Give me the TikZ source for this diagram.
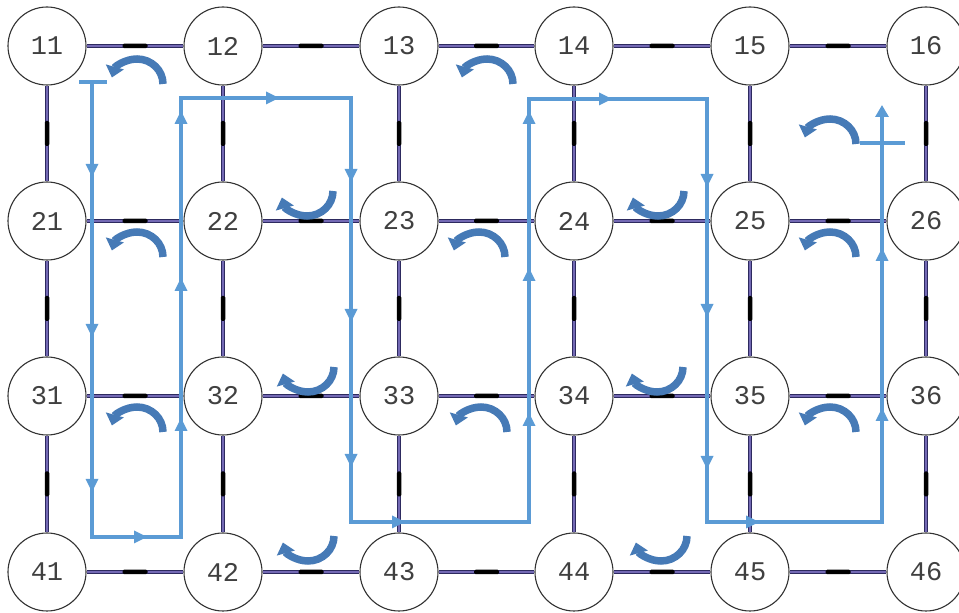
\documentclass[tikz,border=0pt]{standalone}
\usepackage{fontspec}
\setmonofont{Liberation Mono}
\usetikzlibrary{arrows.meta,backgrounds}
\definecolor{edgeout}{RGB}{45,42,95}
\definecolor{edgein}{RGB}{115,105,180}
\definecolor{pathc}{RGB}{91,155,213}
\definecolor{curvc}{RGB}{70,122,182}
\definecolor{txt}{RGB}{64,64,64}
\begin{document}
\begin{tikzpicture}[x=1pt,y=1pt,
  vert/.style={circle,draw=black!80,line width=1.1pt,fill=white,minimum size=78pt,inner sep=0pt,
    font=\ttfamily\fontsize{27}{29}\selectfont,text=txt},
  edgebase/.style={draw=edgeout,line width=4.2pt},
  edgeinner/.style={draw=edgein,line width=1.4pt},
  markbar/.style={fill=black,minimum width=25pt,minimum height=4.5pt,inner sep=0pt,rounded corners=1.5pt},
  loop/.style={draw=pathc,line width=3.8pt},
  ptip/.pic={\fill[pathc] (7,0) -- (-6,6.5) -- (-6,-6.5) -- cycle;},
  capc/.pic={\draw[curvc,line width=7.5pt,-{Triangle[width=18pt,length=11pt]}] (26,0) arc[start angle=0,end angle=165,x radius=26,y radius=25];},
  cupc/.pic={\draw[curvc,line width=7.5pt,-{Triangle[width=18pt,length=11pt]}] (26,0) arc[start angle=0,end angle=-165,x radius=26,y radius=25];}
]
\useasboundingbox (0,0) rectangle (959,613);
% nodes
\foreach \r/\y in {1/567,2/392,3/217,4/41}
  \foreach \c/\x in {1/47,2/223,3/399,4/574,5/750,6/926}
    \node[vert] (n\r\c) at (\x,\y) {\r\c};
% edges
\begin{scope}[on background layer]
\foreach \r in {1,2,3,4}
  \foreach \c/\d in {1/2,2/3,3/4,4/5,5/6} {
    \draw[edgebase] (n\r\c) -- (n\r\d);
    \draw[edgeinner] (n\r\c) -- (n\r\d);
    \path (n\r\c) -- (n\r\d) node[midway,sloped,markbar] {};
  }
\foreach \c in {1,2,3,4,5,6}
  \foreach \r/\s in {1/2,2/3,3/4} {
    \draw[edgebase] (n\r\c) -- (n\s\c);
    \draw[edgeinner] (n\r\c) -- (n\s\c);
    \path (n\r\c) -- (n\s\c) node[midway,sloped,markbar] {};
  }
\end{scope}
% blue loop
\coordinate (ps) at (92,531);
\coordinate (pe) at (882,508);
\draw[loop] (79,531) -- (107,531);
\draw[loop] (860,470) -- (905,470);
\draw[loop,line join=miter,-{Triangle[width=13pt,length=12pt]}] (ps) -- (92,76) -- (181,76) -- (181,515) -- (351,515) -- (351,91)
  -- (529,91) -- (529,514) -- (707,514) -- (707,91) -- (882,91) -- (pe);
% loop arrowheads
\foreach \x/\y/\a in {92/443/-90,92/283/-90,92/128/-90,
                      140/76/0,
                      181/188/90,181/328/90,181/495/90,
                      272/515/0,
                      351/438/-90,351/298/-90,351/153/-90,
                      398/91/0,
                      529/193/90,529/338/90,529/495/90,
                      605/514/0,
                      707/433/-90,707/303/-90,707/151/-90,
                      752/91/0,
                      882/198/90,882/358/90}
  \pic[rotate=\a] at (\x,\y) {ptip};
% curved arrows
\foreach \x/\y in {137/529,487/529,830/469,137/356,479/356,830/356,137/181,481/181,830/181}
  \pic at (\x,\y) {capc};
\foreach \x/\y in {307/422,658/422,308/246,657/246,308/77,661/77}
  \pic at (\x,\y) {cupc};
\end{tikzpicture}
\end{document}
